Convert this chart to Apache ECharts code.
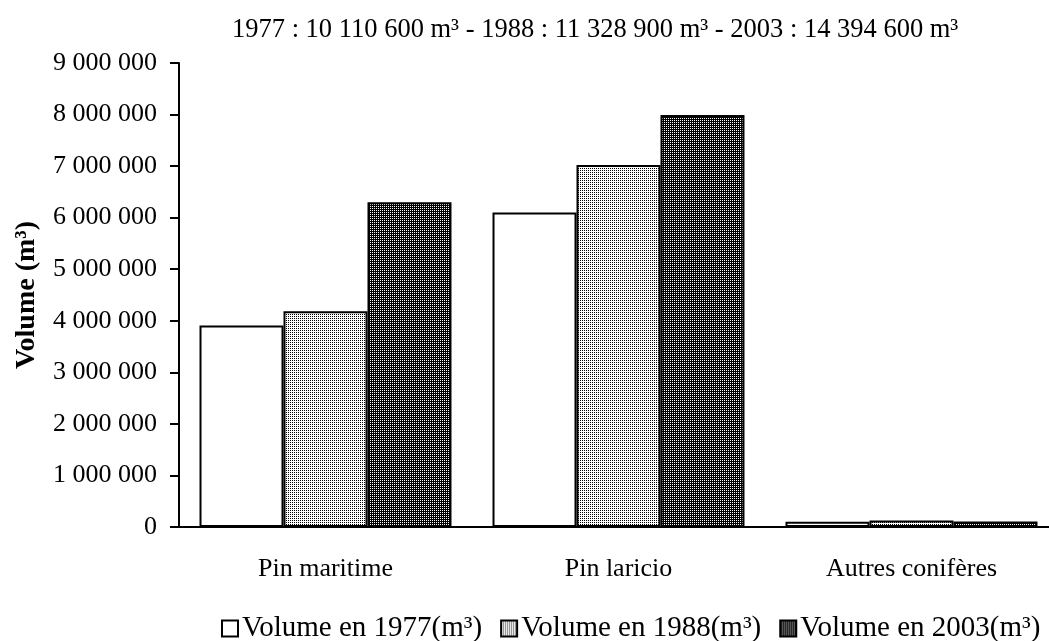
<!DOCTYPE html>
<html>
<head>
<meta charset="utf-8">
<script src="https://cdn.jsdelivr.net/npm/echarts@6/dist/echarts.min.js"></script>
<style>html,body{margin:0;padding:0;background:#fff;}#c{width:1049px;height:641px;}</style>
</head>
<body>
<div id="c"></div>
<script>
const categories = ['Pin maritime', 'Pin laricio', 'Autres conifères'];
const seriesNames = ['Volume en 1977(m³)', 'Volume en 1988(m³)', 'Volume en 2003(m³)'];
const vol1977 = [3910000, 6100600, 100000];
const vol1988 = [4185000, 7020000, 123900];
const vol2003 = [6300000, 7990000, 104600];
const yTicks = [0, 1000000, 2000000, 3000000, 4000000, 5000000, 6000000, 7000000, 8000000, 9000000];
const titleText = '1977 : 10 110 600 m³ - 1988 : 11 328 900 m³ - 2003 : 14 394 600 m³';

const FONT = "'Liberation Serif', 'Times New Roman', serif";

function makePattern(dark) {
  const c = document.createElement('canvas');
  c.width = 2; c.height = 2;
  const g = c.getContext('2d');
  g.fillStyle = dark ? '#000' : '#fff';
  g.fillRect(0, 0, 2, 2);
  g.fillStyle = dark ? '#fff' : '#000';
  g.fillRect(0, 0, 1, 1);
  return { image: c, repeat: 'repeat' };
}

const fills = ['#ffffff', makePattern(false), makePattern(true)];
const dataSets = [vol1977, vol1988, vol2003];

function fmt(v) {
  return String(v).replace(/\B(?=(\d{3})+(?!\d))/g, ' ');
}

const chart = echarts.init(document.getElementById('c'), null, { renderer: 'canvas' });
chart.setOption({
  animation: false,
  backgroundColor: '#fff',
  textStyle: { fontFamily: FONT, color: '#000' },
  title: {
    text: titleText,
    left: 227,
    top: 12,
    textStyle: { fontFamily: FONT, fontSize: 26.5, fontWeight: 'normal', color: '#000' }
  },
  legend: {
    left: 216,
    top: 609,
    width: 1000,
    itemWidth: 16,
    itemHeight: 16,
    itemGap: 18,
    icon: 'rect',
    textStyle: { fontFamily: FONT, fontSize: 29, color: '#000', padding: [0, 0, 0, -1] },
    data: seriesNames
  },
  grid: {
    left: 179,
    right: -9,
    top: 63,
    bottom: 114,
    containLabel: false,
    outerBoundsMode: 'none'
  },
  xAxis: {
    type: 'category',
    data: categories,
    axisLine: { lineStyle: { color: '#000', width: 2 } },
    axisTick: { show: false },
    axisLabel: { fontFamily: FONT, fontSize: 26, color: '#000', margin: 29 }
  },
  yAxis: {
    type: 'value',
    min: 0,
    max: 9000000,
    interval: 1000000,
    name: 'Volume (m³)',
    nameLocation: 'middle',
    nameGap: 138,
    nameRotate: 90,
    nameTextStyle: { fontFamily: FONT, fontSize: 28, fontWeight: 'bold', color: '#000' },
    axisLine: { show: true, lineStyle: { color: '#000', width: 2 } },
    axisTick: { show: true, length: 9, inside: false, lineStyle: { color: '#000', width: 2 } },
    splitLine: { show: false },
    axisLabel: {
      fontFamily: FONT, fontSize: 26, color: '#000', margin: 22,
      formatter: function (v) { return yTicks.indexOf(v) >= 0 ? fmt(v) : ''; }
    }
  },
  series: seriesNames.map(function (n, i) {
    return {
      name: n,
      type: 'bar',
      data: dataSets[i],
      barGap: '0%',
      barCategoryGap: '14%',
      itemStyle: { color: fills[i], borderColor: '#000', borderWidth: 2 },
      emphasis: { disabled: true }
    };
  })
});
</script>
</body>
</html>
